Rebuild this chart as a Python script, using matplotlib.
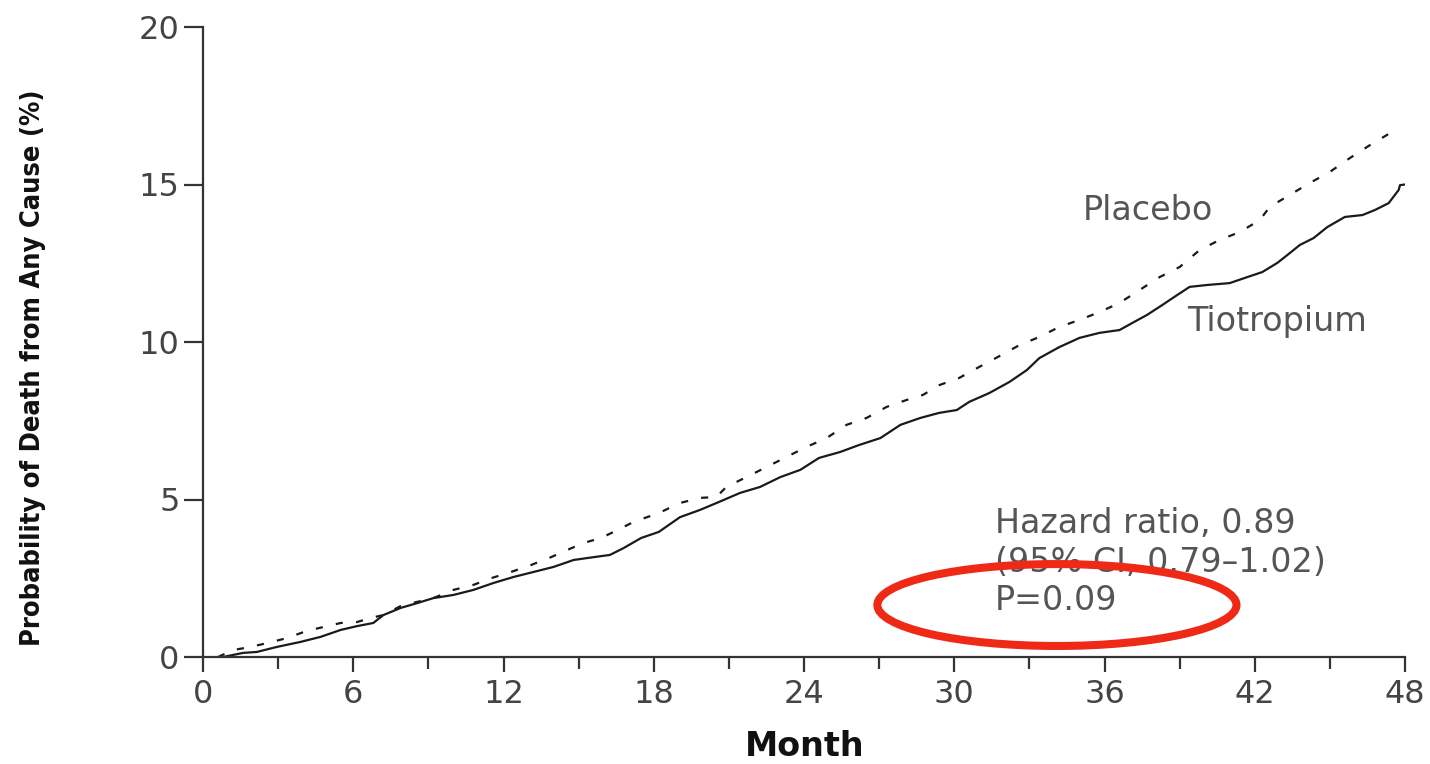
import matplotlib
matplotlib.use("Agg")
import matplotlib.pyplot as plt
from matplotlib.patches import Ellipse
from matplotlib.ticker import MultipleLocator

# Cumulative probability of death from any cause (%), by month of follow-up
placebo_month = [0.6, 1.2, 1.9, 2.55, 3.35, 4.15, 4.8, 5.5, 6.15, 6.7, 7.2, 7.9, 8.55, 9.2,
                 10.0, 10.8, 11.5, 12.3, 13.1, 13.9, 14.55, 15.2, 15.9, 16.55, 17.2, 18.2,
                 19.05, 19.85, 20.5, 20.9, 21.7, 22.5, 23.3, 24.1, 24.9, 25.7, 26.5, 27.3,
                 28.1, 28.75, 29.4, 30.2, 31.0, 31.8, 32.6, 33.4, 34.2, 35.0, 35.8, 36.6,
                 37.4, 38.2, 39.0, 39.8, 40.6, 41.4, 42.2, 42.6, 43.4, 44.2, 45.0, 45.8,
                 46.6, 47.4, 47.7]
placebo_pct = [0.0, 0.22, 0.32, 0.44, 0.6, 0.83, 0.95, 1.08, 1.11, 1.24, 1.33, 1.62, 1.75, 1.87,
               2.13, 2.29, 2.5, 2.7, 2.92, 3.17, 3.4, 3.62, 3.78, 4.03, 4.29, 4.57,
               4.89, 5.05, 5.08, 5.4, 5.71, 6.03, 6.35, 6.67, 6.95, 7.37, 7.59, 7.94,
               8.16, 8.32, 8.63, 8.86, 9.21, 9.55, 9.9, 10.16, 10.48, 10.7, 10.95, 11.24,
               11.65, 12.06, 12.38, 12.92, 13.24, 13.49, 13.87, 14.29, 14.67, 15.05, 15.4, 15.84,
               16.25, 16.63, 16.66]

tiotropium_month = [0.8, 1.6, 2.15, 2.95, 3.9, 4.7, 5.5, 6.15, 6.8, 7.2, 7.9, 8.55, 9.2, 10.0,
                    10.8, 11.6, 12.4, 13.2, 14.0, 14.8, 15.6, 16.25, 16.8, 17.5, 18.2, 19.05,
                    19.85, 20.6, 21.45, 22.25, 23.05, 23.85, 24.6, 25.45, 26.2, 27.05, 27.85,
                    28.65, 29.4, 30.1, 30.6, 31.4, 32.2, 32.9, 33.4, 34.2, 35.0, 35.8, 36.6,
                    37.1, 37.7, 38.3, 38.9, 39.4, 40.1, 41.0, 41.7, 42.3, 42.9, 43.3, 43.8,
                    44.35, 44.9, 45.6, 46.3, 46.8, 47.35, 47.75, 47.8, 48.0]
tiotropium_pct = [0.0, 0.13, 0.16, 0.32, 0.48, 0.64, 0.86, 0.98, 1.08, 1.33, 1.56, 1.71, 1.87, 1.97,
                  2.13, 2.35, 2.54, 2.7, 2.86, 3.08, 3.17, 3.24, 3.46, 3.78, 3.97, 4.44,
                  4.67, 4.92, 5.21, 5.4, 5.71, 5.94, 6.32, 6.51, 6.73, 6.95, 7.37,
                  7.59, 7.75, 7.84, 8.1, 8.38, 8.73, 9.11, 9.49, 9.84, 10.13, 10.29, 10.38,
                  10.6, 10.86, 11.17, 11.49, 11.75, 11.81, 11.87, 12.06, 12.22, 12.51, 12.76, 13.08,
                  13.3, 13.65, 13.97, 14.03, 14.19, 14.41, 14.83, 14.98, 15.0]

x_major = [0, 6, 12, 18, 24, 30, 36, 42, 48]
y_major = [0, 5, 10, 15, 20]

hazard_text = "Hazard ratio, 0.89\n(95% CI, 0.79\u20131.02)\nP=0.09"

label_font = ["DejaVu Sans"]
text_gray = "#555555"
axis_gray = "#333333"

fig = plt.figure(figsize=(14.3, 7.64), dpi=100)
ax = fig.add_axes([203 / 1430, 1 - 657 / 764, (1405 - 203) / 1430, (657 - 27) / 764])

ax.plot(tiotropium_month, tiotropium_pct, color="#1a1a1a", lw=1.6)
ax.plot(placebo_month, placebo_pct, color="#1a1a1a", lw=1.6, linestyle=(0, (3.2, 6.0)))

ax.set_xlim(0, 48)
ax.set_ylim(0, 20)
ax.set_xticks(x_major)
ax.set_yticks(y_major)
ax.xaxis.set_minor_locator(MultipleLocator(3))

for side in ("top", "right"):
    ax.spines[side].set_visible(False)
for side in ("left", "bottom"):
    ax.spines[side].set_color(axis_gray)
    ax.spines[side].set_linewidth(1.6)

ax.tick_params(axis="x", which="major", direction="out", length=11, width=1.6,
               color=axis_gray, labelsize=23, labelcolor="#444444", pad=5)
ax.tick_params(axis="x", which="minor", direction="out", length=8.5, width=1.6, color=axis_gray)
ax.tick_params(axis="y", which="major", direction="out", length=14, width=1.6,
               color=axis_gray, labelsize=23, labelcolor="#444444", pad=3)
for lbl in ax.get_xticklabels() + ax.get_yticklabels():
    lbl.set_family(label_font)

fig.text(805 / 1430, 8 / 764, "Month", ha="center", va="baseline", fontsize=24,
         fontweight="bold", family=label_font, color="#111111")
fig.text(33 / 1430, 1 - 368 / 764, "Probability of Death from Any Cause (%)", rotation=90,
         ha="center", va="center", fontsize=19.5, fontweight="bold", fontstretch="condensed",
         family=["DejaVu Sans"], color="#111111")

ax.text(1083 / 1430, 1 - 210 / 764, "Placebo", transform=fig.transFigure, fontsize=24,
        family=label_font, color=text_gray, ha="left", va="center")
ax.text(1187 / 1430, 1 - 322 / 764, "Tiotropium", transform=fig.transFigure, fontsize=24,
        family=label_font, color=text_gray, ha="left", va="center")
ax.text(995 / 1430, 1 - 562 / 764, hazard_text, transform=fig.transFigure, fontsize=24,
        family=label_font, color=text_gray, ha="left", va="center", linespacing=1.2)

ax.add_patch(Ellipse((34.1, 1.65), 14.34, 2.6, angle=0, fill=False, edgecolor="#ee2a17",
                     linewidth=5.8, zorder=5, clip_on=False))

fig.savefig("out.png", dpi=100, facecolor="white")
